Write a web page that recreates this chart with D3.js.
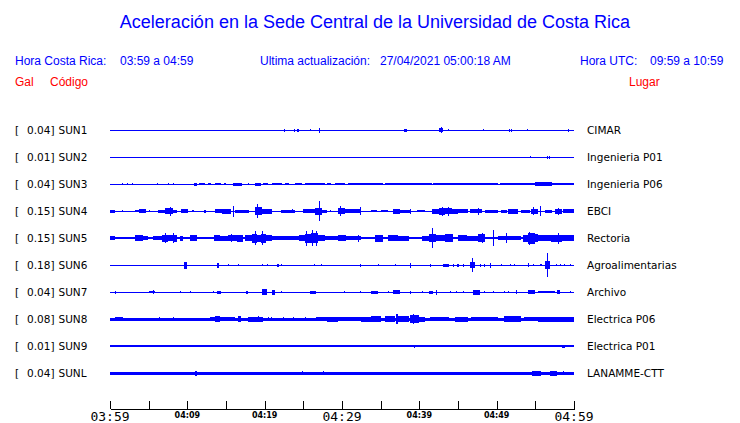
<!DOCTYPE html>
<html><head><meta charset="utf-8">
<script src="https://cdn.jsdelivr.net/npm/d3@7"></script>
<style>body{margin:0;background:#fff}svg{display:block}</style>
</head><body>
<svg id="c" width="740" height="423"></svg>
<script>
// ---- data ----
const title = "Aceleración en la Sede Central de la Universidad de Costa Rica";
const codes  = ["SUN1","SUN2","SUN3","SUN4","SUN5","SUN6","SUN7","SUN8","SUN9","SUNL"];
const gals   = ["0.04","0.01","0.04","0.15","0.15","0.18","0.04","0.08","0.01","0.04"];
const places = ["CIMAR","Ingenieria P01","Ingenieria P06","EBCI","Rectoria","Agroalimentarias","Archivo","Electrica P06","Electrica P01","LANAMME-CTT"];
// background (noise) amplitude of each trace, relative units
const baseAmp = [0.05,0.05,0.05,0.05,0.13,0.05,0.05,0.15,0.06,0.15];
// events: [start minute, end minute, relative half amplitude], minutes after 03:59
const evSUN1 = [[22.5,22.6,.15],[23.8,23.9,.15],[24.2,24.45,.15],[25.8,25.9,.12],[27.05,27.15,.25],[38.0,38.35,.15],[42.55,43.05,.2],[42.75,42.85,.3],[43.7,43.8,.1],[48.25,48.35,.1],[51.55,51.65,.15],[51.8,51.9,.15],[53.95,54.05,.1],[59.25,59.35,.15]];
const evSUN2 = [[54.3,54.4,.1],[56.5,56.6,.15],[56.75,56.85,.15]];
const evSUN3 = [[1.6,1.7,.12],[2.2,2.3,.12],[2.8,2.9,.12],[6.1,6.2,.1],[7.5,7.6,.1],[8.1,8.2,.1],[10.9,11.3,.15],[11.5,12.3,.12],[12.7,13.1,.12],[13.6,14.4,.12],[14.7,15,.1],[15.9,17.1,.15],[17.9,18,.1],[18.75,19.5,.15],[19.8,20.4,.1],[20.9,22.2,.13],[22.6,23.1,.12],[23.9,24.8,.13],[25.2,27.8,.13],[28,28.6,.12],[29.1,30.4,.13],[30.8,35.3,.13],[35.6,41.6,.12],[41.8,45.9,.13],[45.9,50.2,.12],[50.4,54.9,.13],[54.9,57.1,.16],[55.5,55.6,.23],[56,56.1,.23],[57.1,60,.14]];
const evSUN4 = [[0,0.7,.15],[1.6,1.7,.08],[3.2,3.7,.12],[3.7,4.6,.2],[5,5.1,.1],[6.25,7.1,.15],[7.1,8.2,.3],[7.7,7.8,.45],[8.2,8.7,.15],[9.2,10.1,.2],[10.6,10.9,.12],[12.1,12.4,.15],[13.6,14.5,.2],[14.5,15.7,.25],[15.9,16,.55],[16.2,18,.15],[18.75,19.6,.4],[19,19.1,.7],[19.6,20.9,.25],[22.1,23.9,.15],[23.5,23.6,.22],[25,26.5,.2],[26.5,27.4,.35],[27,27.15,1.0],[27.4,28,.15],[28.4,28.5,.1],[29.5,30.4,.3],[29.7,29.8,.5],[30.4,32.5,.2],[32.3,32.4,.4],[33.8,34.5,.12],[35.1,36,.12],[36.6,37.5,.25],[37.5,38.8,.15],[38.8,38.9,.25],[39.7,40.7,.12],[41.6,42.5,.25],[42.5,43.3,.35],[43.3,44.2,.3],[44.2,45,.25],[42.9,43,.45],[43.7,43.8,.45],[45,46.3,.2],[46.6,48.1,.18],[47.6,47.7,.35],[48.5,50.2,.15],[50.6,51.3,.15],[51.5,52.8,.25],[53.2,54.3,.15],[54.5,55.4,.25],[54.7,54.8,.4],[55.6,55.7,.5],[56.2,57.1,.15],[57.5,58.4,.25],[57.9,58,.35],[58.6,60,.2]];
const evSUN5 = [[0,0.6,.17],[3.2,4.3,.3],[4.3,4.95,.18],[5.6,6.7,.2],[6.7,7.5,.35],[7.5,8.1,.28],[8.1,8.6,.35],[7.1,7.2,.5],[8.15,8.25,.5],[9.05,9.5,.25],[10.3,11.2,.3],[13.4,14.2,.3],[14.2,15.2,.25],[15.2,16.4,.3],[15.7,15.8,.4],[16.4,17.2,.35],[17.5,18.3,.3],[18.3,19,.45],[19,19.5,.35],[19.5,20.2,.45],[20.2,20.9,.3],[18.75,18.85,.7],[19.6,19.7,.7],[20.9,24.4,.18],[24.4,25.2,.3],[25.2,26,.45],[26,26.9,.5],[26.9,27.8,.3],[25.4,25.5,.75],[26.1,26.2,.8],[26.7,26.8,.75],[27.8,32.5,.22],[29.5,30.5,.28],[32.1,32.2,.35],[34.3,35.3,.35],[36,37.2,.3],[37.2,38.6,.25],[40.3,41.2,.25],[41.2,42.2,.4],[42.2,43.3,.3],[41.65,41.75,1.0],[43.3,44.3,.4],[45,46.2,.3],[46.2,47.6,.25],[47.6,48.5,.4],[48.05,48.15,.5],[49.55,49.65,.8],[50.2,53.2,.2],[51.2,51.3,.5],[53.4,54,.35],[54,55,.55],[55,55.4,.4],[54.2,54.3,.65],[55.4,57,.3],[57,58.5,.35],[58.5,60,.28],[57.9,58,.55]];
const evSUN6 = [[9.6,10,.35],[13.85,14.15,.25],[15.3,15.4,.08],[16.6,16.7,.08],[19.6,19.7,.1],[20.25,20.35,.1],[21.6,21.8,.15],[22.15,22.25,.1],[26.4,26.5,.1],[27.25,27.35,.1],[30.5,30.6,.05],[32.3,32.45,.15],[34.6,34.7,.1],[36.9,37,.1],[38.8,38.95,.25],[41.35,41.5,.15],[43.1,43.8,.15],[44.4,44.5,.15],[44.9,45.1,.15],[45.6,45.7,.15],[46.6,47.2,.3],[46.8,46.9,.7],[47.8,47.9,.15],[48.4,48.5,.15],[49.1,49.25,.25],[50.6,50.7,.12],[51.7,51.8,.12],[52.3,52.4,.12],[54,54.15,.2],[54.7,54.8,.12],[55.6,55.9,.12],[56.2,56.9,.4],[56.45,56.55,1.2],[57.7,57.8,.12],[58.15,58.25,.12],[58.7,58.8,.12],[59.45,59.55,.12]];
const evSUN7 = [[0.6,0.75,.15],[5.1,5.8,.13],[5.5,5.6,.2],[9.05,9.15,.08],[10.4,10.5,.08],[13.35,13.45,.08],[13.9,14.4,.15],[17.6,17.8,.15],[19.7,20.3,.3],[20.9,21.3,.25],[22.05,22.15,.1],[25.9,26.7,.15],[30.3,30.4,.1],[32.3,32.4,.1],[33.8,34.7,.15],[36.0,36.1,.1],[36.6,37.5,.17],[38.75,38.9,.15],[40.3,40.4,.1],[41.2,41.8,.15],[42.15,42.3,.25],[43.95,44.05,.1],[44.75,44.85,.12],[45.7,45.8,.12],[47,47.8,.25],[48.4,48.5,.1],[49.55,49.65,.12],[50.9,51,.12],[51.45,51.55,.12],[52.45,52.55,.2],[54.1,55,.18],[55.4,57.5,.14],[57.8,58.2,.2],[59.45,59.55,.12]];
const evSUN8 = [[0.65,1.7,.2],[6.4,6.5,.2],[8.2,8.3,.2],[12.9,13.6,.22],[13.6,14.2,.3],[14.2,16.2,.22],[16.5,17,.3],[17.9,19.8,.25],[19.15,19.25,.3],[20.4,20.5,.2],[20.8,20.9,.2],[22.35,22.45,.2],[23.7,23.8,.22],[25.2,25.3,.22],[26.7,28,.2],[28,29.5,.25],[29.5,32.5,.2],[32.5,33.8,.25],[33.8,35.1,.3],[35.6,36.9,.3],[37,37.3,.5],[37.3,38.6,.3],[38.8,39.9,.4],[39.2,39.3,.5],[39.9,40.7,.25],[41.4,43.8,.2],[44.6,46.3,.25],[46.7,50.2,.2],[50.9,53.2,.28],[53.5,55.4,.2],[55.4,60,.25]];
const evSUN9 = [[13.95,14.05,.1],[19.05,19.15,.12],[33.8,33.9,.1],[34.45,34.55,.1],[37.05,37.25,.12],[39.25,39.5,.15],[43.05,43.15,.1],[45.45,45.55,.1],[51,51.1,.12],[51.4,51.5,.12],[54.05,54.15,.1],[54.8,55.8,.12],[56.2,57.1,.12],[57.5,58.2,.12],[58.4,58.9,.15]];
const evSUNL = [[11,11.3,.25],[24.85,24.95,.2],[27.55,27.65,.2],[54.6,55.7,.25],[56.9,57.75,.25],[58.6,58.7,.2]];
const events = [evSUN1,evSUN2,evSUN3,evSUN4,evSUN5,evSUN6,evSUN7,evSUN8,evSUN9,evSUNL];
const tickMinutes = [0,5,10,15,20,25,30,35,40,45,50,55,60];
const tickLabels  = [[0,"03:59",true],[10,"04:09",false],[20,"04:19",false],[30,"04:29",true],[40,"04:39",false],[50,"04:49",false],[60,"04:59",true]];

// ---- drawing ----
const svg = d3.select("#c");
const BLUE = "#0000ff", RED = "#ff0000";
const x = d3.scaleLinear().domain([0,60]).range([110,574]);
const y = d3.scalePoint().domain(codes).range([130,373]);
const amp = d3.scaleLinear().domain([0,1]).range([0,10]);
const hdr = "Liberation Sans, Arial, Helvetica, sans-serif";
const dj = "DejaVu Sans, sans-serif";

svg.append("text").attr("x",375).attr("y",28).attr("text-anchor","middle")
  .attr("font-family",hdr).attr("font-size",18).attr("fill",BLUE).text(title);

const h = [[15,"Hora Costa Rica:"],[120,"03:59 a 04:59"],[260,"Ultima actualización:"],[380,"27/04/2021 05:00:18 AM"],[580,"Hora UTC:"],[650,"09:59 a 10:59"]];
svg.selectAll("text.h").data(h).join("text").attr("class","h")
  .attr("x",d=>d[0]).attr("y",65).attr("font-family",hdr).attr("font-size",12).attr("fill",BLUE).text(d=>d[1]);
const r = [[15,"Gal"],[50,"Código"],[629,"Lugar"]];
svg.selectAll("text.r").data(r).join("text").attr("class","r")
  .attr("x",d=>d[0]).attr("y",86).attr("font-family",hdr).attr("font-size",12).attr("fill",RED).text(d=>d[1]);

const rows = svg.selectAll("g.row").data(codes).join("g").attr("class","row")
  .attr("transform",d=>`translate(0,${y(d)})`);
rows.append("text").attr("x",15).attr("y",4).attr("font-family",dj).attr("font-size",10.5).text("[");
rows.append("text").attr("x",27).attr("y",4).attr("font-family",dj).attr("font-size",10.5).text((d,i)=>gals[i]+"]");
rows.append("text").attr("x",58.5).attr("y",4).attr("font-family",dj).attr("font-size",10.5).text(d=>d);
rows.append("text").attr("x",587).attr("y",4).attr("font-family",dj).attr("font-size",10.5).text((d,i)=>places[i]);

rows.append("rect").attr("x",x(0)).attr("width",x(60)-x(0))
  .attr("y",(d,i)=>-Math.max(0.5,amp(baseAmp[i]))).attr("height",(d,i)=>2*Math.max(0.5,amp(baseAmp[i])))
  .attr("fill",BLUE).attr("shape-rendering","crispEdges");
rows.each(function(d,i){
  d3.select(this).selectAll("rect.ev").data(events[i]).join("rect").attr("class","ev")
    .attr("x",e=>x(e[0])).attr("width",e=>Math.max(1,x(e[1])-x(e[0])))
    .attr("y",e=>-amp(e[2])).attr("height",e=>2*amp(e[2]))
    .attr("fill",BLUE).attr("shape-rendering","crispEdges");
});

// time axis
const ax = svg.append("g").attr("transform","translate(0,409)")
  .call(d3.axisTop(x).tickValues(tickMinutes).tickSize(8).tickFormat("").tickSizeOuter(0));
ax.selectAll("path,line").attr("stroke","#000").attr("stroke-width",1).attr("shape-rendering","crispEdges");
svg.selectAll("text.tl").data(tickLabels).join("text").attr("class","tl")
  .attr("x",d=>x(d[0])).attr("y",d=>d[2]?421:418).attr("text-anchor","middle")
  .attr("font-family",d=>d[2]?"DejaVu Sans Mono, monospace":"DejaVu Sans, sans-serif")
  .attr("font-weight",d=>d[2]?"normal":"bold")
  .attr("font-size",d=>d[2]?13:8).text(d=>d[1]);
</script>
</body></html>
